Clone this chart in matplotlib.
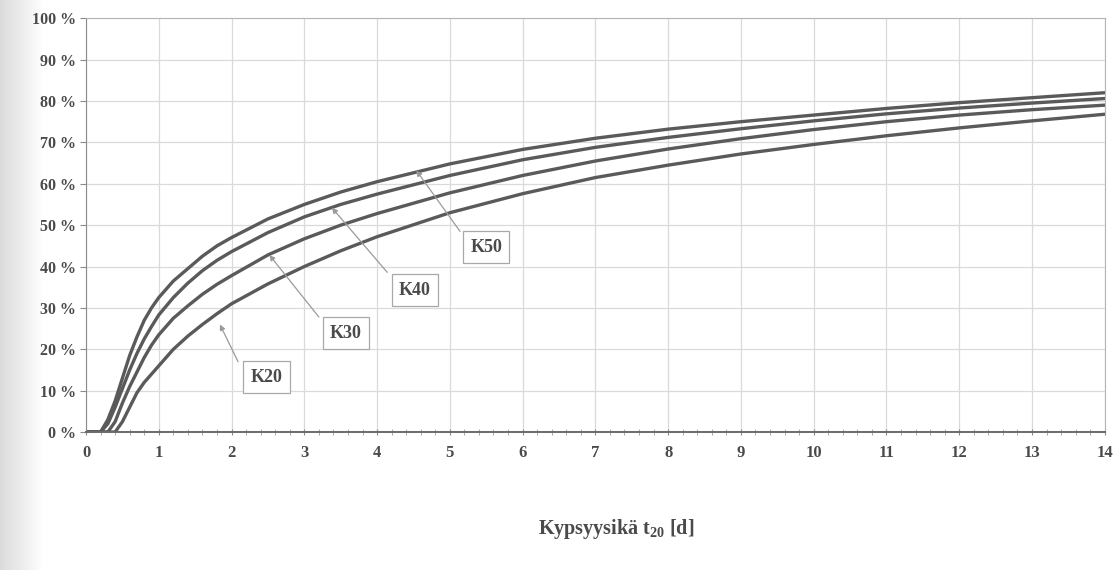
import numpy as np
import matplotlib
matplotlib.use("Agg")
import matplotlib.pyplot as plt
from matplotlib.ticker import MultipleLocator, FuncFormatter

# maturity age t20 [d]
t20 = [0, 0.2, 0.3, 0.4, 0.5, 0.6, 0.7, 0.8, 0.9, 1.0, 1.2, 1.4, 1.6, 1.8, 2.0,
       2.5, 3.0, 3.5, 4, 5, 6, 7, 8, 9, 10, 11, 12, 13, 14]

# relative strength [%] for each concrete grade
k50 = [0, 0, 3, 7.5, 13, 18.5, 23, 27, 30, 32.5, 36.5, 39.5, 42.5, 45, 47,
       51.5, 55, 58, 60.5, 64.8, 68.3, 71, 73.2, 75, 76.6, 78.2, 79.6, 80.8, 82]
k40 = [0, 0, 2, 6, 10.5, 15, 19, 22.5, 25.5, 28.3, 32.5, 36, 39, 41.5, 43.6,
       48.2, 52, 55, 57.5, 62, 65.8, 68.8, 71.2, 73.3, 75.2, 76.9, 78.3, 79.5, 80.6]
k30 = [0, 0, 0, 2.5, 7, 11, 14.5, 18, 21, 23.5, 27.5, 30.5, 33.3, 35.7, 37.8,
       42.8, 46.7, 50, 52.8, 57.8, 62, 65.5, 68.4, 70.9, 73.1, 75, 76.6, 77.9, 79]
k20 = [0, 0, 0, 0, 2.5, 6, 9.5, 12, 14, 16, 20, 23.2, 26, 28.6, 31,
       35.8, 40, 43.8, 47.2, 53, 57.6, 61.5, 64.5, 67.2, 69.5, 71.6, 73.5, 75.2, 76.8]

labels = ["K50", "K40", "K30", "K20"]
# label box centre, arrow start (box corner), arrow tip on curve
label_pos = [(5.5, 44.7), (4.52, 34.3), (3.57, 23.9), (2.48, 13.3)]
arrow_from = [(5.14, 48.5), (4.14, 38.6), (3.2, 27.8), (2.09, 17.0)]
arrow_to = [(4.54, 63.2), (3.38, 54.2), (2.52, 42.8), (1.84, 26.0)]

plt.rcParams["font.family"] = ["Liberation Serif", "DejaVu Serif"]
plt.rcParams["mathtext.fontset"] = "custom"
plt.rcParams["mathtext.rm"] = "Liberation Serif"
plt.rcParams["mathtext.bf"] = "Liberation Serif:bold"

fig = plt.figure(figsize=(11.17, 5.7), dpi=100)

# scanned page shading on the left edge
bg = fig.add_axes([0, 0, 1, 1], zorder=-10)
grad = np.ones((2, 1117))
grad[:, :45] = np.linspace(0.80, 1.0, 45) ** 0.7
bg.imshow(grad, cmap="gray", vmin=0, vmax=1, aspect="auto", extent=[0, 1, 0, 1])
bg.axis("off")

ax = fig.add_axes([0.077, 0.242, 0.912, 0.726])
ax.set_facecolor("white")

for y in [k50, k40, k30, k20]:
    ax.plot(t20, y, color="#5a5a5a", lw=2.4, solid_capstyle="round")

ax.set_xlim(0, 14)
ax.set_ylim(0, 100)
ax.xaxis.set_major_locator(MultipleLocator(1))
ax.xaxis.set_minor_locator(MultipleLocator(0.2))
ax.yaxis.set_major_locator(MultipleLocator(10))
ax.yaxis.set_major_formatter(FuncFormatter(lambda v, p: f"{v:.0f} %"))
ax.grid(True, which="major", color="#dadada", lw=0.9)
ax.set_axisbelow(True)

for s in ["top", "right"]:
    ax.spines[s].set_color("#b5b5b5")
ax.spines["left"].set_color("#8a8a8a")
ax.spines["bottom"].set_color("#6a6a6a")
ax.spines["bottom"].set_linewidth(1.4)

ax.tick_params(axis="y", which="major", length=4, color="#8a8a8a",
               labelsize=11.5, labelcolor="#4a4a4a", pad=3)
ax.tick_params(axis="x", which="major", length=5, direction="inout",
               color="#8a8a8a", labelsize=12, labelcolor="#4a4a4a", pad=7)
ax.tick_params(axis="x", which="minor", length=4, direction="inout",
               color="#9a9a9a")
for lab in ax.get_xticklabels() + ax.get_yticklabels():
    lab.set_fontweight("bold")

ax.set_xlabel("Kypsyysikä t$_{\\mathbf{20}}$ [d]", fontsize=14.5, fontweight="bold",
              color="#4a4a4a")
ax.xaxis.set_label_coords(0.52, -0.205)

for name, pos, p0, p1 in zip(labels, label_pos, arrow_from, arrow_to):
    ax.annotate("", xy=p1, xytext=p0,
                arrowprops=dict(arrowstyle="-|>", color="#9a9a9a", lw=0.9,
                                mutation_scale=8, shrinkA=0, shrinkB=0))
    ax.text(pos[0], pos[1], name, ha="center", va="center", fontsize=13,
            fontweight="bold", color="#4a4a4a",
            bbox=dict(boxstyle="square,pad=0.4", fc="white", ec="#a8a8a8", lw=0.9))

fig.savefig("out.png", dpi=100)
